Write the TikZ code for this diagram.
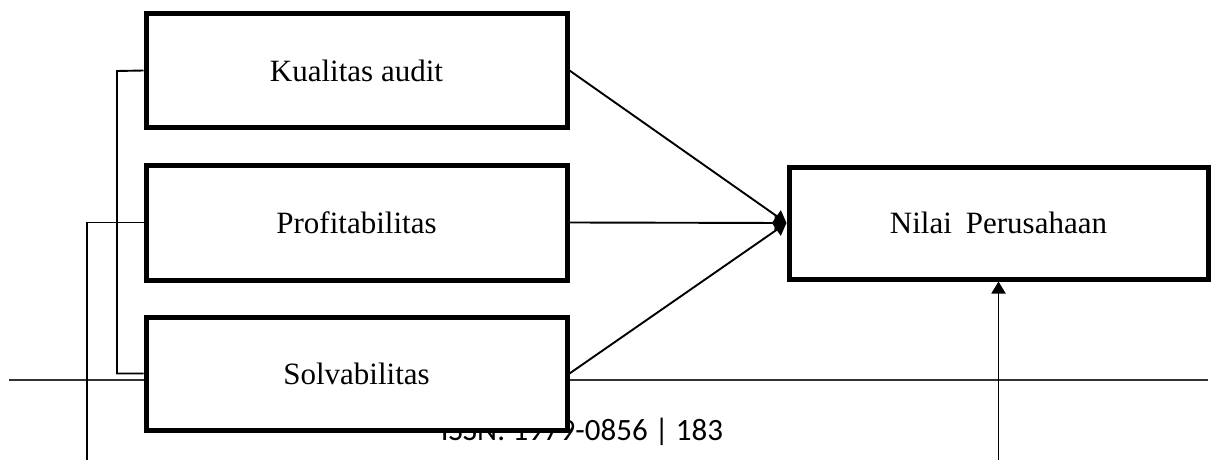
\documentclass[tikz,border=0pt]{standalone}
\usepackage{fontspec}
\setmainfont{Liberation Serif}
\newfontfamily\footfont{Carlito}
\usetikzlibrary{arrows.meta}
\tikzset{
  vbox/.style={draw=black, fill=white, line width=5pt, rectangle, inner sep=0pt,
    font=\fontsize{31}{37}\selectfont},
  conn/.style={draw=black, line width=1.9pt},
  arr/.style={conn, -{Triangle[length=12pt,width=14pt]}},
  footline/.style={draw=black!80, line width=1.5pt}
}
\begin{document}
\begin{tikzpicture}[x=1pt,y=-1pt]
\useasboundingbox (0,0) rectangle (1212,460);
% footer line and page label
\coordinate (fl) at (9,380);
\coordinate (fr) at (1208,380);
\draw[footline] (fl) -- (fr);
\node[anchor=base, inner sep=0pt, font=\footfont\fontsize{31}{37}\selectfont] (issn) at (582,440) {ISSN: 1979-0856 | 183};
% boxes
\node[vbox, minimum width=421pt, minimum height=113pt] (ka) at (356.5,70.5) {Kualitas audit};
\node[vbox, minimum width=421pt, minimum height=115pt] (pr) at (356.5,222.5) {Profitabilitas};
\node[vbox, minimum width=421pt, minimum height=113pt] (so) at (356.5,373.5) {Solvabilitas};
\node[vbox, minimum width=419pt, minimum height=112pt] (np) at (998.5,223) {Nilai\hspace{0.45em}Perusahaan};
% left connectors
\coordinate (b1) at (117,71);
\coordinate (b2) at (117,373.5);
\draw[conn] (ka.west) -- (b1) -- (b2) -- (so.west);
\coordinate (c1) at (87,222.5);
\coordinate (c2) at (87,460);
\draw[conn] (pr.west) -- (c1) -- (c2);
% arrows to Nilai Perusahaan
\draw[arr] (ka.east) -- (np.west);
\draw[arr] (pr.east) -- (np.west);
\draw[arr] (so.east) -- (np.west);
\coordinate (up) at (998.5,460);
\draw[arr] (up) -- (np.south);
\end{tikzpicture}
\end{document}
